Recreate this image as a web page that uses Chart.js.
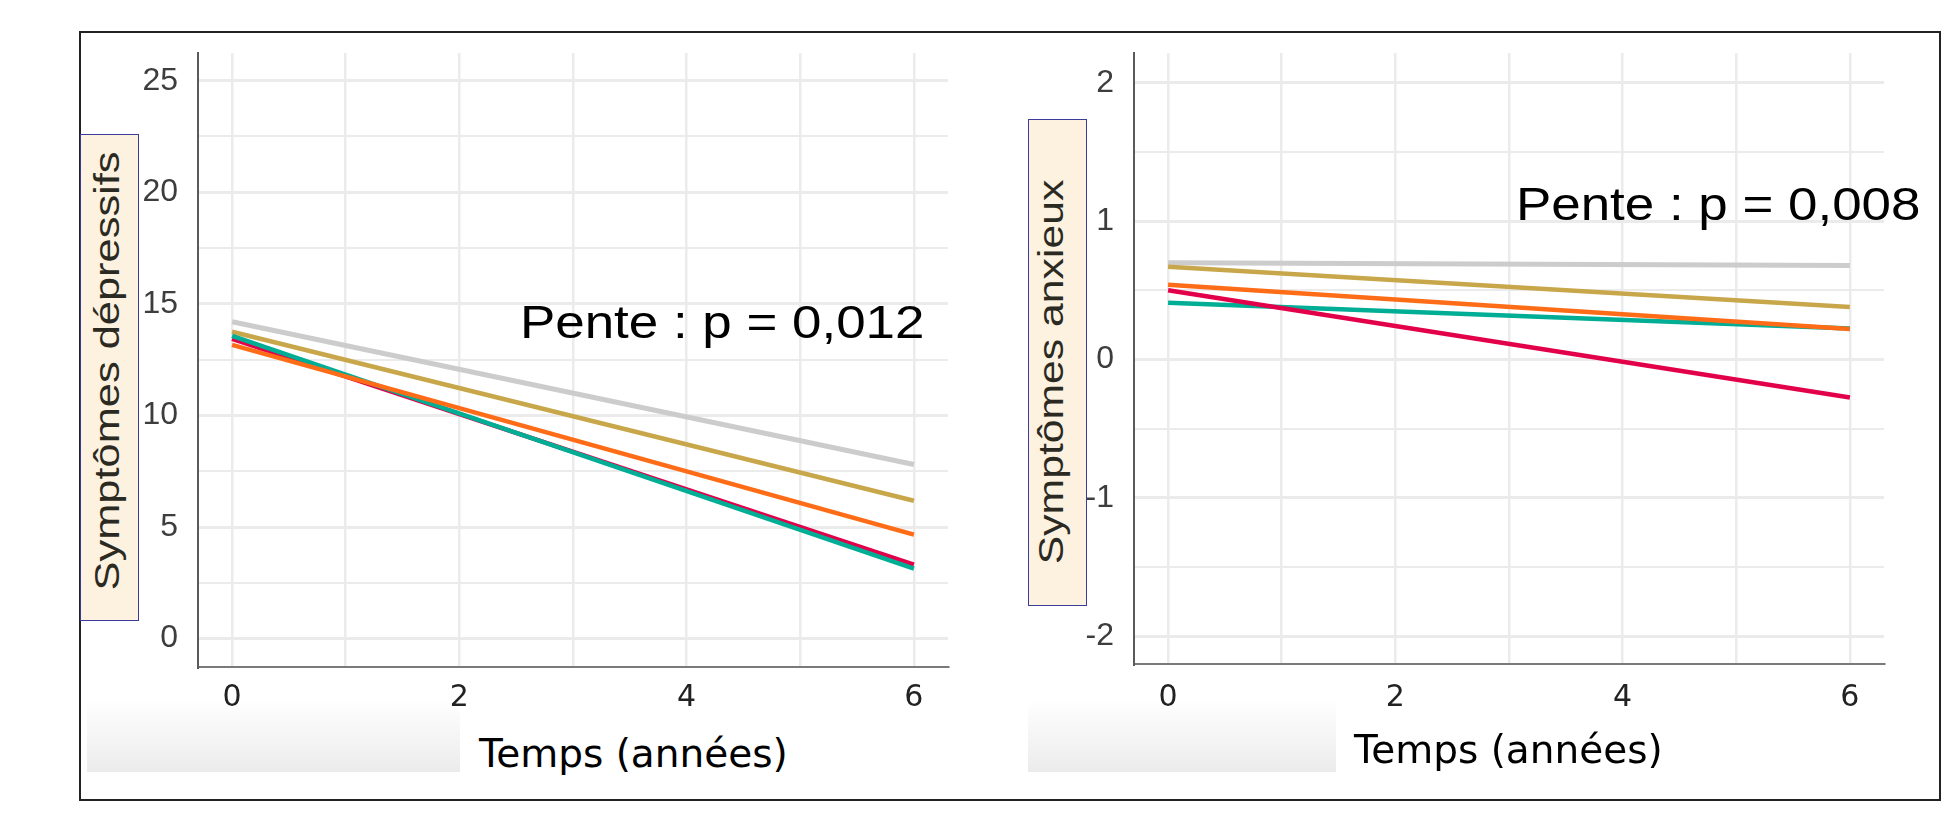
<!DOCTYPE html>
<html lang="fr">
<head>
<meta charset="utf-8">
<title>Symptômes dépressifs et anxieux</title>
<script src="https://cdn.jsdelivr.net/npm/chart.js@4.4.1/dist/chart.umd.min.js"></script>
<style>
    body { margin: 0; width: 1951px; height: 818px; background: #fff; position: relative; overflow: hidden; }
    .frame { position: absolute; left: 79px; top: 31px; width: 1862px; height: 770px; border: 2px solid #222; box-sizing: border-box; }
    .chart-box { position: absolute; top: 40px; width: 840px; height: 690px; z-index: 2; }
    .shade { position: absolute; height: 72px; top: 700px; background: linear-gradient(to bottom, #ffffff, #ebebeb); z-index: 1; }
    .y-box { position: absolute; background: #fdf1e0; border: 1px solid #3b3b9a; box-sizing: border-box; z-index: 3; }
    .y-title { position: absolute; white-space: nowrap; font-family: "Liberation Sans", Arial, sans-serif; font-size: 35px; color: #2b2a22; line-height: 1; z-index: 4; }
    .x-title { position: absolute; white-space: nowrap; font-family: "DejaVu Sans", sans-serif; font-size: 39px; line-height: 1; color: #000; background: #fff; z-index: 3; }
    .pente { position: absolute; white-space: nowrap; font-family: "Liberation Sans", Arial, sans-serif; font-size: 46px; line-height: 1; color: #000; z-index: 4; transform-origin: 0 0; transform: scaleX(1.15); }
</style>
</head>
<body>
<div class="frame"></div>

<div class="shade" style="left:87px; width:373px;"></div>
<div class="shade" style="left:1028px; width:308px;"></div>

<div class="chart-box" style="left:120px;"><canvas id="depChart" width="840" height="690"></canvas></div>
<div class="chart-box" style="left:1060px;"><canvas id="anxChart" width="840" height="690"></canvas></div>

<div class="y-box" style="left:80px; top:134px; width:59px; height:487px;"></div>
<div class="y-title" style="left:106px; top:371px; transform: translate(-50%,-50%) rotate(-90deg) scaleX(1.24);">Symptômes dépressifs</div>
<div class="y-box" style="left:1028px; top:119px; width:59px; height:487px;"></div>
<div class="y-title" style="left:1050px; top:372px; transform: translate(-50%,-50%) rotate(-90deg) scaleX(1.22);">Symptômes anxieux</div>

<div class="x-title" style="left:479px; top:734px;">Temps (années)</div>
<div class="x-title" style="left:1354px; top:730px;">Temps (années)</div>

<div class="pente" style="left:520px; top:299px;">Pente : p = 0,012</div>
<div class="pente" style="left:1516px; top:181px;">Pente : p = 0,008</div>

<script>
// Time points (years) - every line is a straight fitted slope
const years = [0, 6];

const orange = '#ff6c17';
const teal = '#00ad95';
const red = '#e3004b';
const gold = '#c8a74b';
const gray = '#cccccc';

// Depressive symptoms, value at year 0 and year 6
const depOrange = [13.16, 4.66];
const depTeal = [13.57, 3.14];
const depRed = [13.43, 3.32];
const depGold = [13.75, 6.18];
const depGray = [14.2, 7.8];

// Anxiety symptoms, value at year 0 and year 6
const anxOrange = [0.54, 0.22];
const anxTeal = [0.41, 0.225];
const anxRed = [0.50, -0.275];
const anxGold = [0.67, 0.38];
const anxGray = [0.70, 0.68];

// Axis ticks
const xGridValues = [0, 1, 2, 3, 4, 5, 6];
const xLabelValues = [0, 2, 4, 6];
const depGridValues = [0, 2.5, 5, 7.5, 10, 12.5, 15, 17.5, 20, 22.5, 25];
const depLabelValues = [0, 5, 10, 15, 20, 25];
const anxGridValues = [-2, -1.5, -1, -0.5, 0, 0.5, 1, 1.5, 2];
const anxLabelValues = [-2, -1, 0, 1, 2];

// first entry is drawn on top
function buildDatasets(series) {
    return series.map(s => ({
        label: s.name,
        data: years.map((x, j) => ({ x: x, y: s.values[j] })),
        borderColor: s.color,
        backgroundColor: s.color,
        borderWidth: s.color === gray ? 5 : 4.5,
        pointRadius: 0,
        fill: false,
        tension: 0
    }));
}

// drop the extra room Chart.js keeps for the end labels
function noLabelPadding(scale) {
    scale.paddingTop = 0;
    scale.paddingBottom = 0;
    scale.paddingLeft = 0;
    scale.paddingRight = 0;
}

function makeChart(canvasId, series, yMin, yMax, yGrid, yLabels, yAxisWidth, yPad, xPad, padding) {
    const ctx = document.getElementById(canvasId).getContext('2d');
    return new Chart(ctx, {
        type: 'line',
        data: { datasets: buildDatasets(series) },
        options: {
            responsive: false,
            animation: false,
            devicePixelRatio: 1,
            layout: { padding: padding },
            plugins: {
                legend: { display: false },
                tooltip: { enabled: false }
            },
            scales: {
                x: {
                    type: 'linear',
                    min: -0.3,
                    max: 6.3,
                    afterBuildTicks: scale => { scale.ticks = xGridValues.map(v => ({ value: v })); },
                    afterFit: scale => { scale.height = 50; noLabelPadding(scale); },
                    grid: { color: '#ebebeb', lineWidth: 2.5, drawTicks: false },
                    border: { color: '#7a7a7a', width: 2 },
                    ticks: {
                        padding: xPad,
                        color: '#222',
                        font: { family: 'DejaVu Sans', size: 30 },
                        callback: v => xLabelValues.includes(v) ? String(v) : ''
                    }
                },
                y: {
                    type: 'linear',
                    min: yMin,
                    max: yMax,
                    afterBuildTicks: scale => { scale.ticks = yGrid.map(v => ({ value: v })); },
                    afterFit: scale => { scale.width = yAxisWidth; noLabelPadding(scale); },
                    grid: {
                        color: '#ebebeb',
                        drawTicks: false,
                        lineWidth: c => yLabels.includes(c.tick.value) ? 3 : 2
                    },
                    border: { color: '#5a5a5a', width: 2 },
                    ticks: {
                        padding: yPad,
                        color: '#3d3d3d',
                        font: { family: 'Liberation Sans', size: 32 },
                        callback: v => yLabels.includes(v) ? String(v) : ''
                    }
                }
            }
        }
    });
}

document.addEventListener('DOMContentLoaded', function() {
    makeChart('depChart', [
        { name: 'Groupe orange', color: orange, values: depOrange },
        { name: 'Groupe turquoise', color: teal, values: depTeal },
        { name: 'Groupe rouge', color: red, values: depRed },
        { name: 'Groupe or', color: gold, values: depGold },
        { name: 'Groupe gris', color: gray, values: depGray }
    ], -1.27, 26.24, depGridValues, depLabelValues, 78, 20, 13,
        { left: 0, top: 13, right: 12, bottom: 13 });

    makeChart('anxChart', [
        { name: 'Groupe orange', color: orange, values: anxOrange },
        { name: 'Groupe rouge', color: red, values: anxRed },
        { name: 'Groupe turquoise', color: teal, values: anxTeal },
        { name: 'Groupe or', color: gold, values: anxGold },
        { name: 'Groupe gris', color: gray, values: anxGray }
    ], -2.2, 2.215, anxGridValues, anxLabelValues, 74, 20, 16,
        { left: 0, top: 13, right: 16, bottom: 16 });
});
</script>
</body>
</html>
